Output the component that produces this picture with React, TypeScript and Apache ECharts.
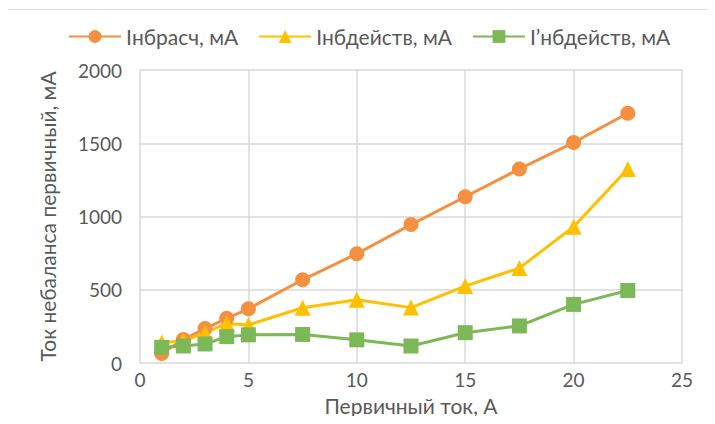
import React, { useEffect, useRef } from "react";
import * as echarts from "echarts";

const xValues = [1, 2, 3, 4, 5, 7.5, 10, 12.5, 15, 17.5, 20, 22.5];
const iRasch = [65, 160, 235, 305, 370, 568, 746, 945, 1135, 1325, 1505, 1705];
const iDeistv = [140, 150, 205, 270, 260, 377, 431, 378, 525, 648, 930, 1325];
const iDeistv2 = [107, 116, 130, 180, 192, 195, 158, 116, 207, 253, 400, 495];
const seriesNames = ["Iнбрасч, мА", "Iнбдейств, мА", "I’нбдейств, мА"];
const colors = ["#F4903F", "#FFC000", "#7DB858"];
const symbols = ["circle", "triangle", "rect"];

const FONT = "Lato, 'Open Sans', sans-serif";

export default function App() {
  const ref = useRef<HTMLDivElement>(null);
  useEffect(() => {
    const chart = echarts.init(ref.current!, undefined, { renderer: "svg" });
    const data = [iRasch, iDeistv, iDeistv2];
    chart.setOption({
      animation: false,
      textStyle: { fontFamily: FONT },
      graphic: [
        {
          type: "rect",
          shape: { x: 5.5, y: 9.5, width: 740, height: 440 },
          style: { fill: "none", stroke: "#d9d9d9", lineWidth: 1 },
          silent: true,
        },
      ],
      legend: {
        top: 21,
        left: 63,
        itemWidth: 52,
        itemHeight: 16,
        itemGap: 20,
        textStyle: { fontSize: 21, color: "#595959", fontFamily: FONT },
        data: seriesNames,
      },
      grid: { left: 140, right: 33, top: 70, bottom: 61 },
      xAxis: {
        type: "value",
        min: 0,
        max: 25,
        interval: 5,
        name: "Первичный ток, А",
        nameLocation: "middle",
        nameGap: 32,
        nameTextStyle: { fontSize: 21, color: "#595959", fontFamily: FONT },
        axisLine: { show: false },
        axisTick: { show: false },
        axisLabel: { fontSize: 19, color: "#595959", margin: 7, fontFamily: FONT },
        splitLine: { show: true, lineStyle: { color: "#d9d9d9", width: 1.5 } },
      },
      yAxis: {
        type: "value",
        min: 0,
        max: 2000,
        interval: 500,
        name: "Ток небаланса первичный, мА",
        nameLocation: "middle",
        nameGap: 82,
        nameTextStyle: { fontSize: 21, color: "#595959", fontFamily: FONT },
        axisLine: { show: false },
        axisTick: { show: false },
        axisLabel: {
          fontSize: 19,
          color: "#595959",
          margin: 18,
          fontFamily: FONT,
          formatter: (v: number) => String(v),
        },
        splitLine: { show: true, lineStyle: { color: "#d9d9d9", width: 1.5 } },
      },
      series: seriesNames.map((name, i) => ({
        name,
        type: "line",
        data: xValues.map((x, j) => [x, data[i][j]]),
        symbol: symbols[i],
        symbolSize: i === 1 ? 16 : 15,
        showAllSymbol: true,
        lineStyle: { color: colors[i], width: 3 },
        itemStyle: { color: colors[i] },
      })),
    });
    return () => chart.dispose();
  }, []);
  return <div ref={ref} style={{ width: 715, height: 424, margin: -8 }} />;
}
